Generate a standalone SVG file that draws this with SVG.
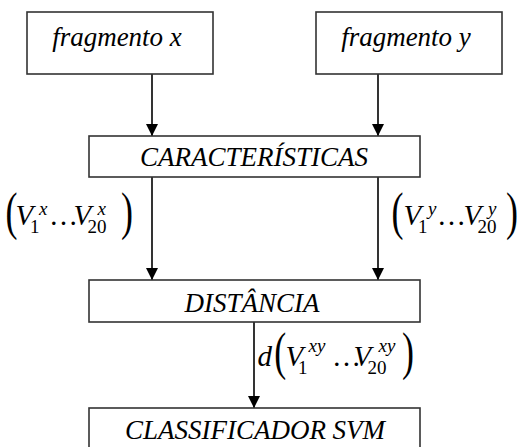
<svg xmlns="http://www.w3.org/2000/svg" width="517" height="447" viewBox="0 0 517 447">
<style>
.box{fill:#fff;stroke:#333;stroke-width:1.6}
.lbl{font-family:'Liberation Serif','Times New Roman',serif;font-style:italic;font-size:27px;fill:#000;text-anchor:middle}
.m{fill:#000;font-family:'Liberation Serif','Times New Roman',serif}
.mi{font-style:italic;font-size:29px}
.ms{font-size:19px}
.msi{font-style:italic;font-size:19px}
.mu{font-size:29px}
.par{font-size:36px}
.conn{stroke:#000;stroke-width:1.6;fill:none;marker-end:url(#ah)}
</style>
<defs>
<marker id="ah" markerUnits="userSpaceOnUse" markerWidth="12" markerHeight="14" refX="12" refY="6" orient="auto">
<path d="M0,0 L12,6 L0,12 Z" fill="#000"/>
</marker>
</defs>
<rect width="517" height="447" fill="#fff"/>
<g id="connectors">
<line class="conn" x1="152" y1="74" x2="152" y2="136"/>
<line class="conn" x1="378" y1="74" x2="378" y2="136"/>
<line class="conn" x1="152" y1="177" x2="152" y2="280"/>
<line class="conn" x1="378" y1="177" x2="378" y2="280"/>
<line class="conn" x1="254" y1="322" x2="254" y2="408"/>
</g>
<g id="fragx">
<rect class="box" x="27" y="12" width="186" height="62"/>
<text class="lbl" x="117" y="46">fragmento x</text>
</g>
<g id="fragy">
<rect class="box" x="316" y="12" width="186" height="62"/>
<text class="lbl" x="406" y="46">fragmento y</text>
</g>
<g id="caracteristicas">
<rect class="box" x="89" y="136" width="331" height="41"/>
<text class="lbl" x="254" y="166">CARACTERÍSTICAS</text>
</g>
<g id="distancia">
<rect class="box" x="89" y="280" width="331" height="42"/>
<text class="lbl" x="252" y="312">DISTÂNCIA</text>
</g>
<g id="classificador">
<rect class="box" x="89" y="408" width="331" height="60"/>
<text class="lbl" x="255" y="439">CLASSIFICADOR SVM</text>
</g>
<g id="label-vx">
<text class="m par" transform="translate(5.5,228.6) scale(1,1.465)">(</text>
<text class="m mi" x="15.5" y="225">V</text>
<text class="m ms" x="30" y="233">1</text>
<text class="m msi" x="39" y="215">x</text>
<text class="m mu" x="49" y="225">…</text>
<text class="m mi" x="73.5" y="225">V</text>
<text class="m ms" x="87.5" y="233">20</text>
<text class="m msi" x="97.5" y="215">x</text>
<text class="m par" transform="translate(121,228.6) scale(1,1.465)">)</text>
</g>
<g id="label-vy">
<text class="m par" transform="translate(391.5,228.6) scale(1,1.465)">(</text>
<text class="m mi" x="403.5" y="225">V</text>
<text class="m ms" x="418" y="233">1</text>
<text class="m msi" x="428" y="215">y</text>
<text class="m mu" x="437" y="225">…</text>
<text class="m mi" x="463.5" y="225">V</text>
<text class="m ms" x="477.5" y="233">20</text>
<text class="m msi" x="488" y="215">y</text>
<text class="m par" transform="translate(506,228.6) scale(1,1.465)">)</text>
</g>
<g id="label-d">
<text class="m mi" x="257.6" y="366">d</text>
<text class="m par" transform="translate(274.3,368.6) scale(1,1.465)">(</text>
<text class="m mi" x="285.5" y="366">V</text>
<text class="m ms" x="298" y="374">1</text>
<text class="m msi" x="308.5" y="352">xy</text>
<text class="m mu" x="332" y="366">…</text>
<text class="m mi" x="353.5" y="366">V</text>
<text class="m ms" x="367.5" y="374">20</text>
<text class="m msi" x="378.5" y="352">xy</text>
<text class="m par" transform="translate(402,368.6) scale(1,1.465)">)</text>
</g>
</svg>
